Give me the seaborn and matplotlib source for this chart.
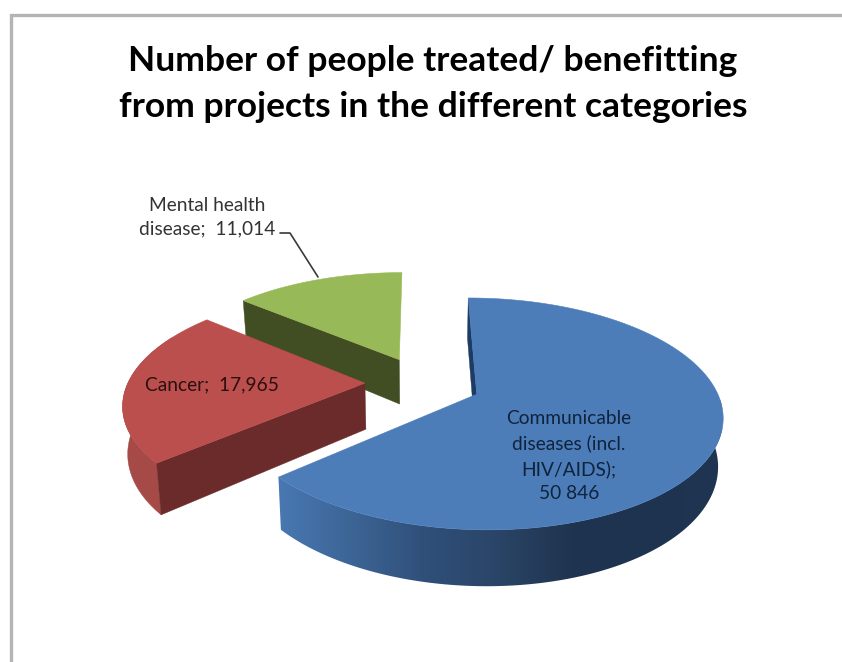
import numpy as np
import matplotlib
matplotlib.use("Agg")
import matplotlib.pyplot as plt
from matplotlib.patches import Polygon
import seaborn as sns

# Chart content
title_text = "Number of people treated/ benefitting\nfrom projects in the different categories"
categories = ["Communicable diseases (incl. HIV/AIDS)", "Cancer", "Mental health disease"]
people = [50846, 17965, 11014]
slice_labels = ["Communicable\ndiseases (incl.\nHIV/AIDS);\n50 846",
                "Cancer;  17,965",
                "Mental health\ndisease;  11,014"]

# Colours for each slice: top face, outer wall, radial wall
top_colors = sns.color_palette(["#4c7db9", "#bb4f4d", "#98b957"])
outer_colors = sns.color_palette(["#4c7db9", "#a64a47", "#7f9a48"])
radial_colors = sns.color_palette(["#1d3c63", "#6b2b2b", "#414d22"])
blue_wall = sns.blend_palette(["#4a79b4", "#3d6697", "#30507a", "#2a4567", "#1f344f", "#1e3350", "#1f3552"],
                              as_cmap=True)

# Perspective set-up of the exploded 3D pie
VX, VY = 423, 383     # pixel position of the pie axis
RX, RY = 237, 108.8   # horizontal and vertical disc radius
PERSP = 0.167         # foreshortening toward the back of the disc
EXPLODE = 0.245       # outward displacement of every slice
DEPTH = 46            # extrusion height
BASE_SHRINK = 0.983   # base plane sits slightly further from the viewer
START = -0.2          # clockwise angle of the first slice, degrees from the top

sns.set_theme(style="white")
plt.rcParams["font.family"] = ["Lato", "DejaVu Sans"]

fig = plt.figure(figsize=(8.42, 6.62), dpi=100, facecolor="white")
ax = fig.add_axes([0, 0, 1, 1])


def project(theta, radius, mid, base=False):
    """Map a disc position (degrees clockwise from the top) to pixels."""
    th, m = np.radians(theta), np.radians(mid)
    u = EXPLODE * np.sin(m) + radius * np.sin(th)
    v = -EXPLODE * np.cos(m) - radius * np.cos(th)
    w = 1 - PERSP * v
    x = VX + RX * u / w
    y = VY + RY * v / w
    if base:
        x = VX + (x - VX) * BASE_SHRINK
        y = y + DEPTH / w
    return x, y


# Chart frame along the top and left
ax.plot([842, 11, 11], [15, 15, 662], color="#b4b4b4", lw=2.4, solid_joinstyle="miter")

sweeps = np.array(people) / sum(people) * 360
starts = START + np.concatenate([[0], np.cumsum(sweeps)[:-1]])

# Back slices first so the nearer ones overlap them
for i in [2, 1, 0]:
    a0, sweep = starts[i], sweeps[i]
    mid = a0 + sweep / 2
    arc = np.linspace(a0, a0 + sweep, 361)
    xt, yt = project(arc, 1.0, mid)

    # Outer wall: only the part of the rim that can face the viewer
    front = arc[np.cos(np.radians(arc)) < 0.45]
    if front.size > 1:
        xf, yf = project(front, 1.0, mid)
        xr, yr = project(front, 1.0, mid, base=True)
        outline = np.column_stack([np.r_[xf, xr[::-1]], np.r_[yf, yr[::-1]]])
        if i == 0:
            # The largest slice's rim darkens from left to right
            wall = Polygon(outline, transform=ax.transData, fc="none", ec="none")
            ax.add_patch(wall)
            img = ax.imshow(np.linspace(0, 1, 256).reshape(1, -1), cmap=blue_wall, aspect="auto",
                            extent=(272, 722, 600, 400), interpolation="bilinear",
                            zorder=2 + (2 - i) * 3)
            img.set_clip_path(wall)
        else:
            ax.fill(outline[:, 0], outline[:, 1], color=outer_colors[i], lw=0.3,
                    zorder=2 + (2 - i) * 3)

    # Radial wall on the slice's leading edge
    ax_, ay_ = project(a0, 0.0, mid)
    bx_, by_ = project(a0, 0.0, mid, base=True)
    xb0, yb0 = project(a0, 1.0, mid, base=True)
    ax.fill([xt[0], ax_, bx_, xb0], [yt[0], ay_, by_, yb0],
            color=radial_colors[i], lw=0.3, zorder=3 + (2 - i) * 3)

    # Top face
    ax.fill(np.r_[ax_, xt], np.r_[ay_, yt], color=top_colors[i], lw=0.4, zorder=4 + (2 - i) * 3)

# Leader line for the label outside the pie
ax.plot([280, 290, 318], [233, 233, 277], color="#3a3a3a", lw=1.2, zorder=20)

# Title and labels
ax.text(433, 84, title_text, ha="center", va="center", fontsize=25.5, fontweight="bold",
        color="black", linespacing=1.53, zorder=20)
label_xy = [(569, 456), (212, 385), (207, 217)]
label_colors = ["#10233c", "#2a0f0f", "#333333"]
for s, (lx, ly), c in zip(slice_labels, label_xy, label_colors):
    ax.text(lx, ly, s, ha="center", va="center", fontsize=13.8, color=c, linespacing=1.49, zorder=20)

ax.set_xlim(0, 842)
ax.set_ylim(662, 0)
ax.axis("off")

fig.savefig("out.png", dpi=100, facecolor="white")
